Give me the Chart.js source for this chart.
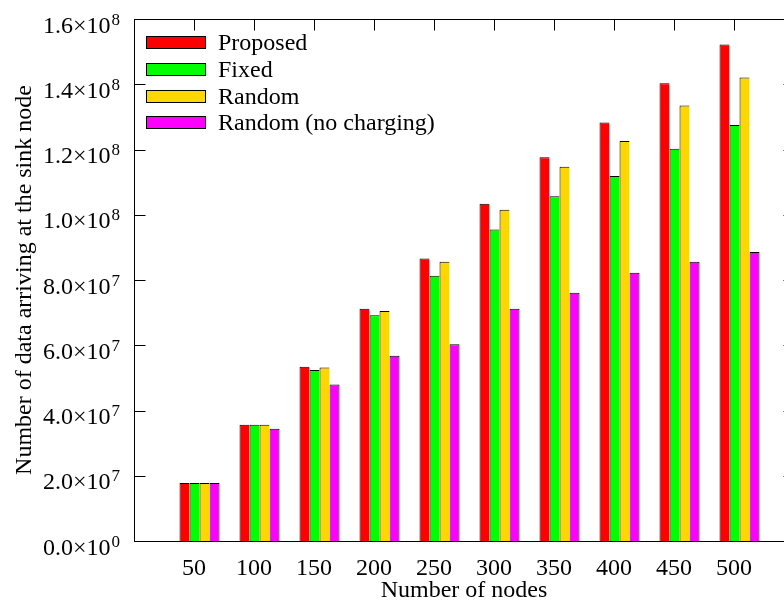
<!DOCTYPE html>
<html lang="en">

<head>
    <meta charset="UTF-8">
    <title>Data arriving at the sink node</title>
    <script src="https://cdn.jsdelivr.net/npm/chart.js@4.4.1/dist/chart.umd.min.js"></script>
    <style>
        body {
            margin: 0;
            overflow: hidden;
            background: #fff;
        }
    </style>
</head>

<body>
    <canvas id="grafico" width="810" height="606"></canvas>
</body>

</html>

<script>
    // number of nodes (x axis)
    const nodes = [50, 100, 150, 200, 250, 300, 350, 400, 450, 500];

    // data arriving at the sink node, per strategy
    const proposed = [1.78e7, 3.56e7, 5.34e7, 7.12e7, 8.66e7, 10.34e7, 11.76e7, 12.83e7, 14.03e7, 15.22e7];
    const fixed = [1.78e7, 3.56e7, 5.24e7, 6.92e7, 8.13e7, 9.55e7, 10.57e7, 11.19e7, 12.02e7, 12.75e7];
    const random = [1.78e7, 3.56e7, 5.32e7, 7.05e7, 8.56e7, 10.15e7, 11.47e7, 12.26e7, 13.35e7, 14.21e7];
    const randomNoCharging = [1.78e7, 3.44e7, 4.80e7, 5.68e7, 6.03e7, 7.12e7, 7.61e7, 8.22e7, 8.56e7, 8.86e7];

    const yTicks = [0, 2e7, 4e7, 6e7, 8e7, 1e8, 1.2e8, 1.4e8, 1.6e8];

    // each cluster of bars sits slightly to the right of its tick
    const shift = 4.6;

    const FONT = '"Liberation Serif", "Times New Roman", serif';
    Chart.defaults.font.family = FONT;
    Chart.defaults.font.size = 24;
    Chart.defaults.color = '#000';

    function points(values) {
        return nodes.map((n, i) => ({ x: n + shift, y: values[i] }));
    }

    const edgeLeftTop = { top: 1, left: 1, right: 0, bottom: 0 };

    // frame and inward tick marks
    const frame = {
        id: 'frame',
        beforeDatasetsDraw(chart) {
            const { ctx, chartArea: a, scales } = chart;
            ctx.save();
            ctx.strokeStyle = '#000';
            ctx.lineWidth = 1;
            ctx.beginPath();
            nodes.forEach(n => {
                const x = Math.round(scales.x.getPixelForValue(n)) + 0.5;
                ctx.moveTo(x, a.bottom);
                ctx.lineTo(x, a.bottom - 11);
            });
            ctx.stroke();
            ctx.restore();
        },
        afterDatasetsDraw(chart) {
            const { ctx, chartArea: a, scales } = chart;
            const l = Math.round(a.left) + 0.5, r = Math.round(a.right) + 0.5;
            const t = Math.round(a.top) + 0.5, b = Math.round(a.bottom) + 0.5;
            ctx.save();
            ctx.strokeStyle = '#000';
            ctx.lineWidth = 1;
            ctx.beginPath();
            yTicks.forEach(v => {
                const y = Math.round(scales.y.getPixelForValue(v)) + 0.5;
                ctx.moveTo(l, y); ctx.lineTo(l + 11, y);
                ctx.moveTo(r, y); ctx.lineTo(r - 11, y);
            });
            nodes.forEach(n => {
                const x = Math.round(scales.x.getPixelForValue(n)) + 0.5;
                ctx.moveTo(x, t); ctx.lineTo(x, t + 11);
            });
            ctx.stroke();
            ctx.strokeRect(l, t, r - l, b - t);
            ctx.restore();
        }
    };

    // y tick labels in the form m.m×10^e
    const yLabels = {
        id: 'yLabels',
        afterDraw(chart) {
            const { ctx, scales } = chart;
            ctx.save();
            ctx.fillStyle = '#000';
            ctx.textBaseline = 'alphabetic';
            ctx.textAlign = 'left';
            yTicks.forEach(v => {
                const e = v === 0 ? 0 : Math.floor(Math.log10(v) + 1e-9);
                const m = (v / Math.pow(10, e)).toFixed(1);
                const main = m + '×10';
                const sup = String(e);
                ctx.font = '17px ' + FONT;
                const supW = ctx.measureText(sup).width;
                ctx.font = '24px ' + FONT;
                const mainW = ctx.measureText(main).width;
                const right = 120;
                const y = scales.y.getPixelForValue(v) + 13.5;
                ctx.fillText(main, right - supW - 1 - mainW, y);
                ctx.font = '17px ' + FONT;
                ctx.fillText(sup, right - supW, y - 8);
            });
            ctx.restore();
        }
    };

    // legend inside the plot, top left
    const legend = {
        id: 'legendBox',
        afterDraw(chart) {
            const { ctx, chartArea: a } = chart;
            ctx.save();
            ctx.font = '24px ' + FONT;
            ctx.textBaseline = 'alphabetic';
            ctx.textAlign = 'left';
            chart.data.datasets.forEach((ds, i) => {
                const cy = a.top + 23.7 + i * 26.7;
                const top = Math.round(cy - 6.5);
                ctx.fillStyle = ds.backgroundColor;
                ctx.fillRect(a.left + 12, top, 60, 13);
                ctx.strokeStyle = '#000';
                ctx.lineWidth = 1;
                ctx.strokeRect(a.left + 12.5, top + 0.5, 59, 12);
                ctx.fillStyle = '#000';
                ctx.fillText(ds.label, a.left + 84, cy + 7.5);
            });
            ctx.restore();
        }
    };

    const dados = {
        datasets: [{
            label: 'Proposed',
            data: points(proposed),
            backgroundColor: '#ff0000',
            borderColor: '#000',
            borderWidth: edgeLeftTop
        }, {
            label: 'Fixed',
            data: points(fixed),
            backgroundColor: '#00ff00',
            borderColor: '#000',
            borderWidth: edgeLeftTop
        }, {
            label: 'Random',
            data: points(random),
            backgroundColor: '#ffd700',
            borderColor: '#000',
            borderWidth: edgeLeftTop
        }, {
            label: 'Random (no charging)',
            data: points(randomNoCharging),
            backgroundColor: '#ff00ff',
            borderColor: '#000',
            borderWidth: { top: 1, left: 1, right: 1, bottom: 0 }
        }]
    };

    const config = {
        type: 'bar',
        data: dados,
        options: {
            responsive: false,
            animation: false,
            events: [],
            barPercentage: 1,
            categoryPercentage: 40 / 60,
            layout: { padding: { top: 19, right: 16, left: 0, bottom: 0 } },
            plugins: {
                legend: { display: false },
                tooltip: { enabled: false }
            },
            scales: {
                x: {
                    type: 'linear',
                    min: 0,
                    max: 550,
                    offset: false,
                    grid: { display: false, offset: false },
                    border: { display: false },
                    ticks: {
                        stepSize: 50,
                        autoSkip: false,
                        maxRotation: 0,
                        padding: 5,
                        callback: v => (v >= 50 && v <= 500) ? String(v) : ''
                    },
                    title: {
                        display: true,
                        text: 'Number of nodes',
                        padding: { top: 0, bottom: 1 }
                    },
                    afterFit(scale) { scale.height = 65; }
                },
                y: {
                    min: 0,
                    max: 1.6e8,
                    grid: { display: false },
                    border: { display: false },
                    ticks: { display: false, stepSize: 2e7 },
                    title: {
                        display: true,
                        text: 'Number of data arriving at the sink node',
                        padding: { top: 10, bottom: 0 }
                    },
                    afterFit(scale) { scale.width = 134; }
                }
            }
        },
        plugins: [frame, yLabels, legend]
    };

    let grafico = new Chart(document.getElementById('grafico'), config);
</script>
